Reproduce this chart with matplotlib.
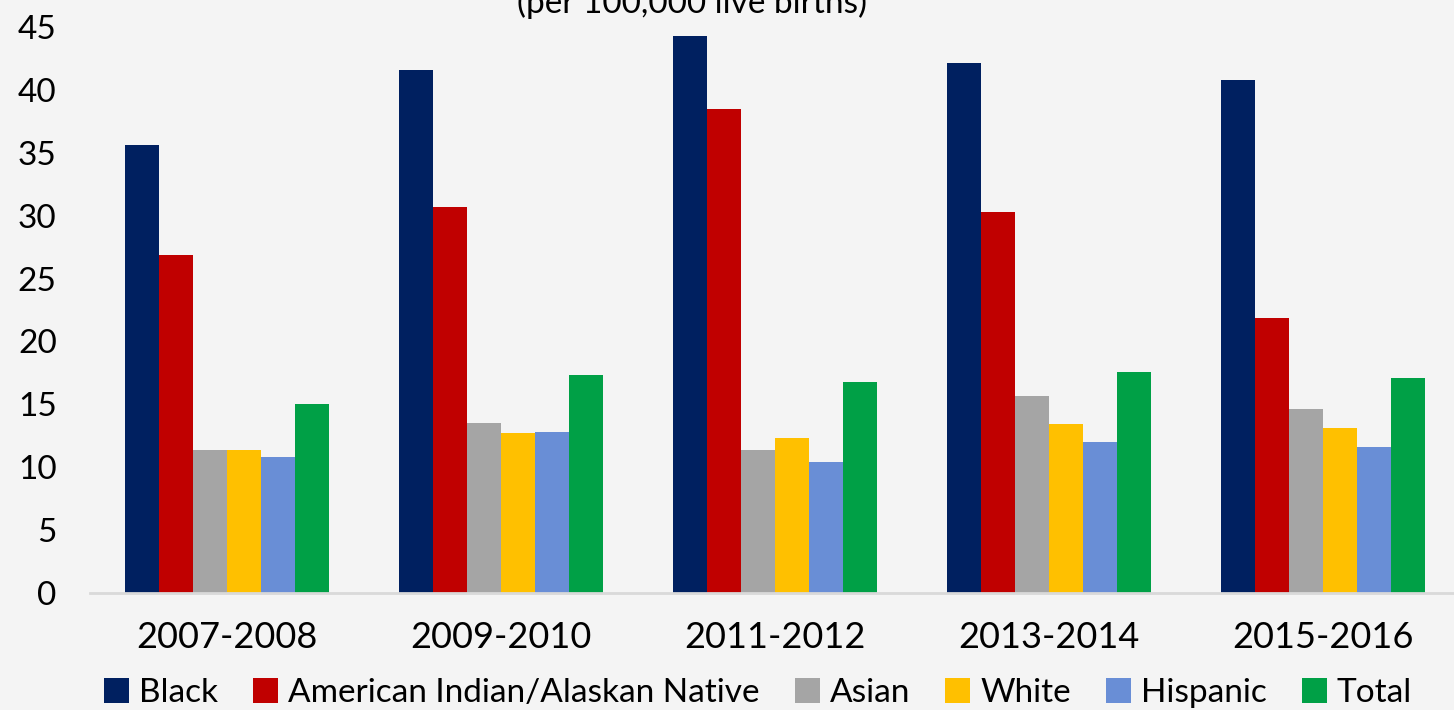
import matplotlib
matplotlib.use("Agg")
import matplotlib.pyplot as plt
import numpy as np

plt.rcParams['font.family'] = ['Lato', 'DejaVu Sans']

categories = ["2007-2008", "2009-2010", "2011-2012", "2013-2014", "2015-2016"]
series_names = ["Black", "American Indian/Alaskan Native", "Asian", "White", "Hispanic", "Total"]
black = [35.6, 41.6, 44.3, 42.1, 40.8]
aian = [26.9, 30.7, 38.5, 30.3, 21.9]
asian = [11.4, 13.5, 11.4, 15.7, 14.6]
white = [11.4, 12.7, 12.3, 13.4, 13.1]
hispanic = [10.8, 12.8, 10.4, 12.0, 11.6]
total = [15.0, 17.3, 16.8, 17.6, 17.1]
series_values = [black, aian, asian, white, hispanic, total]
colors = ["#002060", "#C00000", "#A5A5A5", "#FFC000", "#698ED6", "#00A046"]
yticks = [0, 5, 10, 15, 20, 25, 30, 35, 40, 45]

bg = "#f4f4f4"
fig = plt.figure(figsize=(14.54, 7.10), dpi=100, facecolor=bg)
ax = fig.add_axes([90/1454, 117/710, 1364/1454, (593-27)/710])
ax.set_facecolor(bg)

x = np.arange(len(categories))
bw = 0.124
n = len(series_names)
for i, (name, vals, c) in enumerate(zip(series_names, series_values, colors)):
    ax.bar(x + (i - (n - 1) / 2) * bw, vals, width=bw, color=c, label=name, zorder=2)

ax.set_xlim(-0.5, -0.5 + 1364/274)
ax.set_ylim(0, 45)
ax.set_yticks(yticks)
ax.set_yticklabels([str(t) for t in yticks])
ax.set_xticks(x)
ax.set_xticklabels(categories)
for s in ['top', 'right', 'left']:
    ax.spines[s].set_visible(False)
ax.spines['bottom'].set_color('#d9d9d9')
ax.spines['bottom'].set_linewidth(2)
ax.tick_params(axis='both', length=0, labelsize=24, colors='black')
ax.tick_params(axis='x', labelsize=26)
ax.tick_params(axis='y', pad=24)
ax.tick_params(axis='x', pad=20)

fig.text(692/1454, 1 - 13/710, "(per 100,000 live births)", ha='center', va='baseline', fontsize=24)

leg = fig.legend(loc='center', bbox_to_anchor=(758/1454, 1 - 693/710), ncol=6, frameon=False,
                 fontsize=24, handlelength=0.75, handleheight=0.75, handletextpad=0.3,
                 columnspacing=1.05, borderaxespad=0)

fig.savefig("out.png", dpi=100, facecolor=bg)
